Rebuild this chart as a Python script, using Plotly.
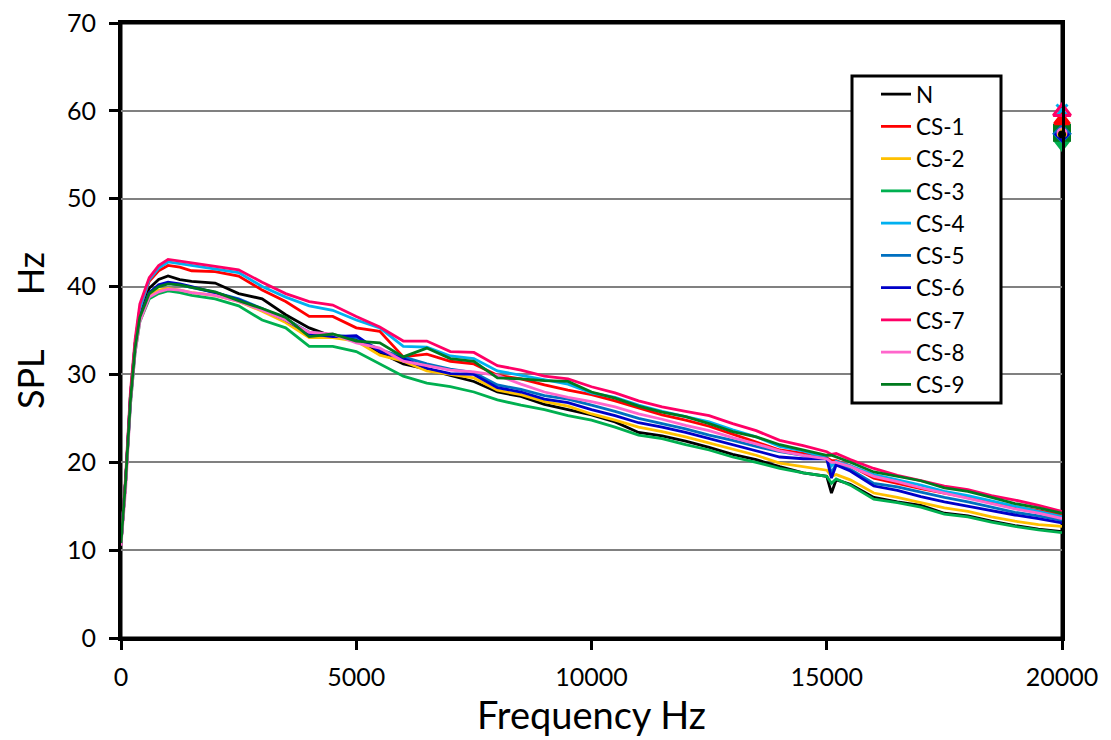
import plotly.graph_objects as go

# frequency points (Hz)
freq = [0, 100, 200, 300, 400, 600, 800, 1000, 1250, 1500, 2000, 2500, 3000, 3500,
        4000, 4500, 5000, 5500, 6000, 6500, 7000, 7500, 8000, 8500, 9000, 9500,
        10000, 10500, 11000, 11500, 12000, 12500, 13000, 13500, 14000, 14500,
        15000, 15100, 15200, 15500, 16000, 16500, 17000, 17500, 18000, 18500,
        19000, 19500, 20000]

spl_n = [10.8, 18, 27.5, 33.5, 37, 39.8, 40.8, 41.2, 40.8, 40.6, 40.4, 39.2, 38.6, 36.8,
         35.3, 34.3, 34.0, 32.5, 31.2, 30.6, 29.9, 29.2, 28.0, 27.5, 26.6, 26.0,
         25.4, 24.6, 23.4, 23.0, 22.4, 21.7, 20.9, 20.3, 19.5, 18.8,
         18.4, 16.5, 18.0, 17.5, 16.0, 15.5, 15.1, 14.2, 13.9, 13.3, 12.8, 12.4, 12.1]
spl_cs1 = [10.8, 18, 27.5, 33.5, 37.5, 40.6, 41.8, 42.4, 42.2, 41.8, 41.7, 41.2, 39.6, 38.3,
           36.6, 36.6, 35.3, 34.9, 32.0, 32.3, 31.5, 31.2, 29.9, 29.5, 28.8, 28.2,
           27.7, 27.0, 26.2, 25.4, 24.8, 24.1, 23.2, 22.3, 21.4, 21.0,
           20.5, 20.2, 20.2, 19.6, 18.2, 17.6, 17.0, 16.5, 16.0, 15.4, 14.9, 14.5, 14.0]
spl_cs2 = [10.8, 18, 27, 33, 36.5, 39.0, 39.6, 39.8, 39.6, 39.3, 39.0, 38.3, 37.2, 35.9,
           34.2, 34.2, 33.8, 32.2, 31.5, 30.4, 30.0, 29.6, 28.2, 27.7, 26.9, 26.4,
           25.5, 24.8, 24.0, 23.5, 22.9, 22.2, 21.5, 20.8, 19.9, 19.5,
           19.1, 18.4, 18.6, 18.0, 16.5, 16.0, 15.4, 14.8, 14.4, 13.8, 13.3, 12.9, 12.7]
spl_cs3 = [10.8, 18, 26.5, 32.5, 36, 38.6, 39.2, 39.5, 39.3, 39.0, 38.6, 37.8, 36.2, 35.3,
           33.2, 33.2, 32.6, 31.2, 29.8, 29.0, 28.6, 28.0, 27.1, 26.5, 26.0, 25.3,
           24.8, 24.0, 23.1, 22.7, 22.0, 21.4, 20.6, 20.0, 19.3, 18.8,
           18.4, 17.6, 18.1, 17.4, 15.8, 15.4, 14.9, 14.1, 13.8, 13.2, 12.7, 12.3, 12.0]
spl_cs4 = [10.8, 18, 27.5, 33.5, 37.5, 40.8, 42.1, 42.8, 42.6, 42.4, 42.0, 41.6, 40.0, 38.8,
           37.8, 37.3, 36.2, 35.3, 33.2, 33.1, 32.1, 31.8, 30.4, 29.9, 29.4, 28.9,
           27.9, 27.4, 26.5, 25.8, 25.2, 24.6, 23.7, 22.9, 21.8, 21.3,
           20.5, 19.6, 20.1, 19.6, 18.6, 18.0, 17.4, 16.7, 16.2, 15.6, 15.0, 14.4, 13.8]
spl_cs5 = [10.8, 18, 27, 33, 36.5, 39.3, 40.1, 40.4, 40.2, 39.9, 39.3, 38.6, 37.5, 36.3,
           34.8, 34.5, 34.2, 32.8, 32.0, 31.2, 30.6, 30.2, 28.8, 28.3, 27.6, 27.2,
           26.5, 25.8, 25.0, 24.4, 23.8, 23.1, 22.5, 21.8, 21.2, 20.8,
           20.4, 18.8, 19.8, 19.2, 17.6, 17.2, 16.6, 16.0, 15.5, 14.9, 14.3, 13.9, 13.4]
spl_cs6 = [10.8, 18, 27, 33, 36.5, 39.3, 40.2, 40.5, 40.3, 40.0, 39.3, 38.5, 37.4, 36.2,
           34.6, 34.3, 34.4, 32.6, 31.8, 30.7, 30.1, 30.0, 28.5, 28.0, 27.2, 26.8,
           26.0, 25.3, 24.5, 24.0, 23.4, 22.7, 22.0, 21.3, 20.6, 20.4,
           20.4, 18.2, 19.7, 19.0, 17.3, 16.8, 16.1, 15.5, 15.0, 14.5, 14.0, 13.6, 13.1]
spl_cs7 = [10.8, 18.5, 28, 34, 38, 41, 42.4, 43.1, 42.9, 42.7, 42.3, 41.9, 40.5, 39.2,
           38.3, 37.9, 36.6, 35.4, 33.8, 33.8, 32.6, 32.5, 31.0, 30.5, 29.8, 29.5,
           28.6, 27.9, 27.0, 26.3, 25.8, 25.3, 24.4, 23.6, 22.5, 21.9,
           21.2, 20.9, 21.0, 20.3, 19.3, 18.5, 17.9, 17.3, 16.9, 16.2, 15.7, 15.1, 14.4]
spl_cs8 = [10.5, 17, 26.5, 32.5, 36, 38.8, 39.4, 39.7, 39.6, 39.3, 39.0, 38.3, 37.3, 36.2,
           34.8, 34.6, 33.6, 33.0, 31.5, 31.0, 30.5, 30.3, 29.9, 28.9, 28.0, 27.4,
           26.9, 26.3, 25.5, 24.9, 24.2, 23.6, 22.8, 22.1, 21.3, 20.8,
           20.4, 20.0, 20.0, 19.5, 18.4, 17.8, 17.1, 16.5, 15.9, 15.3, 14.7, 14.2, 13.6]
spl_cs9 = [10.8, 18, 27, 33, 36.5, 39.2, 40.0, 40.3, 40.2, 39.9, 39.4, 38.4, 37.5, 36.5,
           34.3, 34.6, 33.8, 33.6, 32.0, 33.0, 31.8, 31.5, 29.6, 29.5, 29.3, 29.2,
           28.0, 27.3, 26.4, 25.7, 25.2, 24.4, 23.5, 22.9, 22.0, 21.4,
           20.8, 20.8, 20.6, 20.0, 18.9, 18.4, 17.9, 17.1, 16.7, 16.0, 15.3, 14.8, 14.2]

names = ["N", "CS-1", "CS-2", "CS-3", "CS-4", "CS-5", "CS-6", "CS-7", "CS-8", "CS-9"]
series = [spl_n, spl_cs1, spl_cs2, spl_cs3, spl_cs4, spl_cs5, spl_cs6, spl_cs7, spl_cs8, spl_cs9]
colors = ["#000000", "#FF0000", "#FFC000", "#00B050", "#00B0F0",
          "#0070C0", "#0000C8", "#FF0066", "#FF66CC", "#007A1E"]

# overall levels plotted as single markers at 20000 Hz
overall_x = 20000
overall_names = ["CS-3", "CS-9", "CS-5", "CS-6", "CS-8", "CS-2", "N", "CS-1", "CS-4", "CS-7"]
overall_vals = [56.3, 57.5, 57.4, 57.3, 57.5, 57.4, 57.3, 58.9, 60.1, 59.9]
overall_symbols = ["triangle-down", "square", "diamond", "diamond-open", "circle-open",
                   "triangle-up", "circle", "triangle-up", "x-thin-open", "triangle-up-open"]
overall_sizes = [13, 15, 12, 9, 8, 7, 5, 13, 11, 15]

x_ticks = [0, 5000, 10000, 15000, 20000]
y_ticks = [0, 10, 20, 30, 40, 50, 60, 70]

fig = go.Figure()

for i, (nm, vals) in enumerate(zip(names, series)):
    fig.add_trace(go.Scatter(x=freq, y=vals, mode="lines", name=nm,
                             line=dict(color=colors[i], width=2.8)))

for nm, v, sym, sz in zip(overall_names, overall_vals, overall_symbols, overall_sizes):
    c = colors[names.index(nm)]
    fig.add_trace(go.Scatter(x=[overall_x], y=[v], mode="markers", showlegend=False,
                             cliponaxis=False,
                             marker=dict(symbol=sym, size=sz, color=c,
                                         line=dict(color=c, width=3))))

fig.update_xaxes(range=[0, 20000], tickvals=x_ticks, ticktext=[str(t) for t in x_ticks],
                 showgrid=False, zeroline=False, automargin=False,
                 showline=True, linecolor="black", linewidth=3, mirror=True,
                 ticks="outside", ticklen=9, tickwidth=2.5, tickcolor="black",
                 ticklabelstandoff=6, ticklabeloverflow="allow",
                 tickfont=dict(size=25, color="black"),
                 title=dict(text="Frequency Hz", font=dict(size=38, color="black"), standoff=12))
fig.update_yaxes(range=[0, 70], tickvals=y_ticks, ticktext=[str(t) for t in y_ticks],
                 showgrid=True, gridcolor="#808080", gridwidth=1.5, zeroline=False,
                 automargin=False,
                 showline=True, linecolor="black", linewidth=3, mirror=True,
                 ticks="outside", ticklen=9, tickwidth=2.5, tickcolor="black",
                 ticklabelstandoff=8, ticklabeloverflow="allow",
                 tickfont=dict(size=25, color="black"),
                 title=dict(text="SPL\u00a0\u00a0\u00a0\u00a0\u00a0 Hz\u00a0\u00a0",
                            font=dict(size=36, color="black"), standoff=14))

# plot frame (top / right edges as well)
fig.add_shape(type="rect", xref="paper", yref="paper", x0=0, x1=1, y0=0, y1=1,
              line=dict(color="black", width=3), layer="below")

# legend frame drawn as a paper rectangle, legend itself without border
fig.add_shape(type="rect", xref="paper", yref="paper",
              x0=(852 - 121) / 941, x1=(1001 - 121) / 941,
              y0=(638 - 403) / 615, y1=(638 - 76) / 615,
              line=dict(color="black", width=3), fillcolor="white", layer="above")

fig.update_layout(
    width=1111, height=740,
    margin=dict(l=113, r=57, t=15, b=110),
    paper_bgcolor="white", plot_bgcolor="white",
    font=dict(family="Lato, Open Sans, sans-serif", color="black"),
    legend=dict(x=(876 - 121) / 941, y=(638 - 73) / 615, xanchor="left", yanchor="top",
                borderwidth=0, bgcolor="rgba(0,0,0,0)",
                font=dict(size=22.5, color="black"),
                tracegroupgap=0, itemwidth=30),
)

fig.write_html("out.html")
